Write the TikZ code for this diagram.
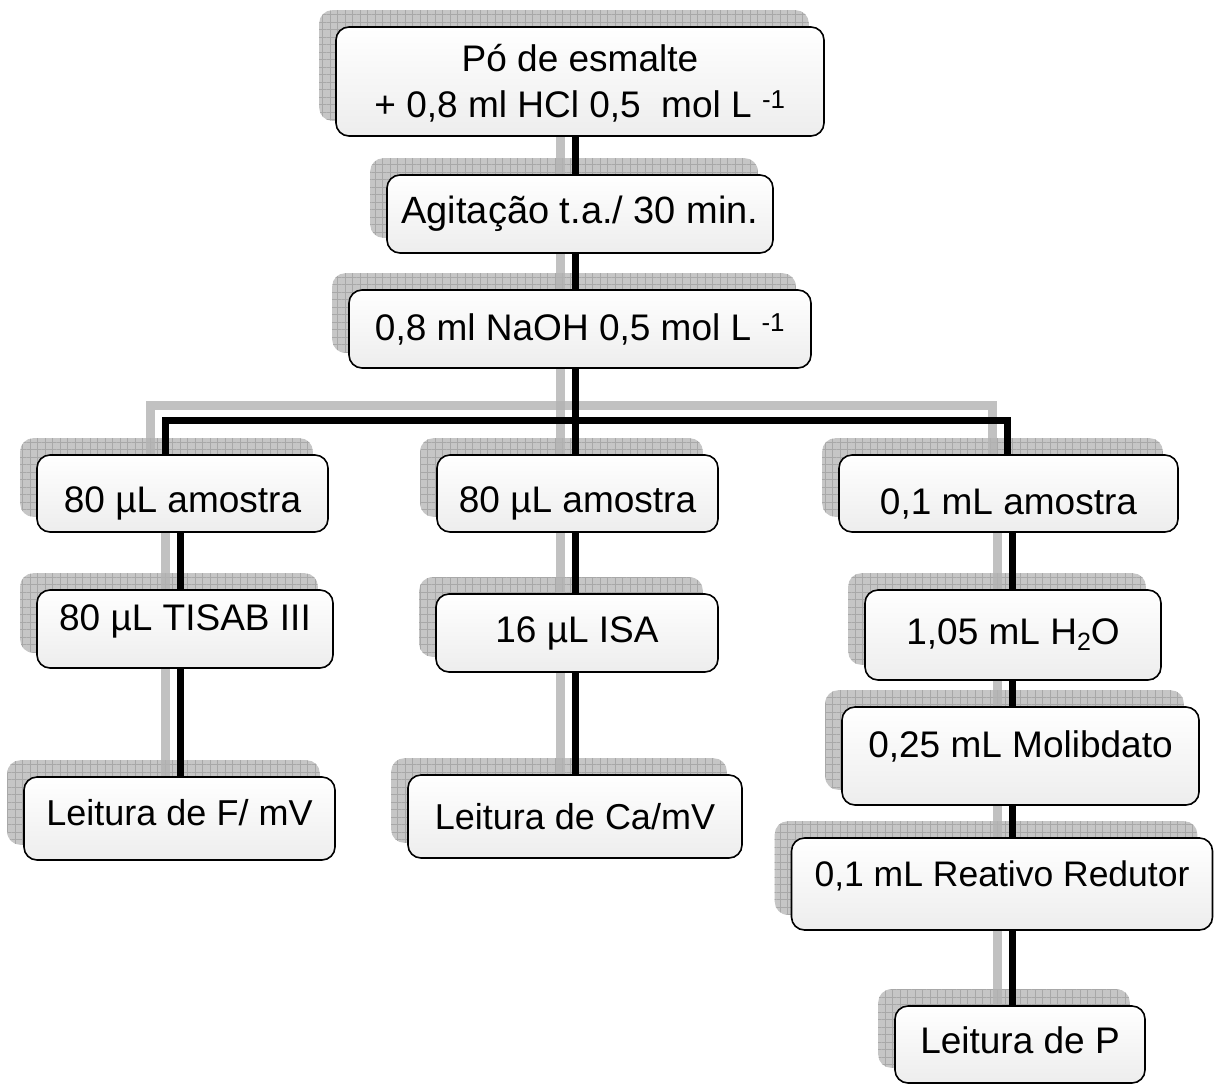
\documentclass[tikz,border=0pt]{standalone}
\usepackage{fontspec}
\setmainfont{Liberation Sans}
\usetikzlibrary{patterns.meta}
\pgfdeclarelayer{shadowlayer}
\pgfdeclarelayer{connlayer}
\pgfsetlayers{shadowlayer,connlayer,main}
\newcommand\mvtxt[2]{\raisebox{#1}[\height][\depth]{#2}}
\newcommand\myconns[1]{%
  \draw[#1] (top.center -| jM) -- (agit.center -| jM);
  \draw[#1] (agit.center -| jM) -- (naoh.center -| jM);
  \draw[#1] (naoh.center -| jM) -- (jM);
  \draw[#1] (jL |- a1.center) -- (jL) -- (jR) -- (jR |- a3.center);
  \draw[#1] (jM) -- (a2.center -| jM);
  \draw[#1] (a2.center -| jM) -- (i2.center -| jM);
  \draw[#1] (i2.center -| jM) -- (c2.center -| jM);
  \draw[#1] (a1.center -| cL) -- (t1.center -| cL);
  \draw[#1] (t1.center -| cL) -- (f1.center -| cL);
  \draw[#1] (a3.center -| cR) -- (h3.center -| cR);
  \draw[#1] (h3.center -| cR) -- (m3.center -| cR);
  \draw[#1] (m3.center -| cR) -- (r3.center -| cR);
  \draw[#1] (r3.center -| cR) -- (p3.center -| cR);
}
\begin{document}
\begin{tikzpicture}[x=1pt,y=-1pt,
  box/.style={draw=black, line width=1.6pt, rounded corners=13pt,
    top color=white, bottom color=gray!14,
    font=\fontsize{37}{46}\selectfont, align=center, inner sep=0pt},
  boxshadow/.style={rounded corners=13pt, preaction={fill=gray!45},
    pattern={Hatch[distance=7.5pt,angle=0,line width=0.8pt]}, pattern color=gray!68},
  conn/.style={draw=black, line width=7pt, line join=miter},
  connshadow/.style={draw=gray!60, line width=9pt, opacity=0.8, line join=miter},
]
\useasboundingbox (0,0) rectangle (1214,1087);

\node[box, minimum width=488pt, minimum height=109pt] (top) at (580,81.5)
  {\mvtxt{-2pt}{Pó de esmalte}\\\mvtxt{-2pt}{+ 0,8 ml HCl 0,5~ mol L \textsuperscript{-1}}};
\node[box, minimum width=386pt, minimum height=78pt, font=\fontsize{38}{46}\selectfont] (agit) at (580,214) {Agitação t.a./ 30 min.};
\node[box, minimum width=462pt, minimum height=78pt] (naoh) at (580,329) {0,8 ml NaOH 0,5 mol L \textsuperscript{-1}};

\node[box, minimum width=291pt, minimum height=77pt] (a1) at (182.5,493.5) {\mvtxt{-10pt}{80 µL amostra}};
\node[box, minimum width=281pt, minimum height=77pt] (a2) at (577.5,493.5) {\mvtxt{-10pt}{80 µL amostra}};
\node[box, minimum width=339pt, minimum height=77pt] (a3) at (1008.5,493.5) {\mvtxt{-10pt}{0,1 mL amostra}};

\node[box, minimum width=296pt, minimum height=78pt] (t1) at (185,629) {\mvtxt{8pt}{80 µL TISAB III}};
\node[box, minimum width=282pt, minimum height=78pt] (i2) at (577,633) {16 µL ISA};
\node[box, minimum width=296pt, minimum height=90pt] (h3) at (1013,635)
  {1,05 mL H\raisebox{-0.3ex}{\fontsize{25}{25}\selectfont 2}O};

\node[box, minimum width=311pt, minimum height=83pt, font=\fontsize{36}{46}\selectfont] (f1) at (179.5,818.5) {\mvtxt{6pt}{Leitura de F/ mV}};
\node[box, minimum width=334pt, minimum height=83pt, font=\fontsize{36}{46}\selectfont] (c2) at (575,816.5) {Leitura de Ca/mV};

\node[box, minimum width=357pt, minimum height=98pt] (m3) at (1020.5,756) {\mvtxt{10pt}{0,25 mL Molibdato}};
\node[box, minimum width=421pt, minimum height=92pt, font=\fontsize{35.5}{46}\selectfont] (r3) at (1002,884) {\mvtxt{8pt}{0,1 mL Reativo Redutor}};
\node[box, minimum width=250pt, minimum height=77pt] (p3) at (1020,1044.5) {\mvtxt{4pt}{Leitura de P}};

\coordinate (jL) at (165,420);
\coordinate (jM) at (575,420);
\coordinate (jR) at (1007,420);
\coordinate (cL) at (180,420);
\coordinate (cR) at (1012,420);

\begin{pgfonlayer}{shadowlayer}
  \foreach \n in {top,agit,naoh,a1,a2,a3,t1,i2,h3,f1,c2,m3,r3,p3}
    \path[boxshadow] ([shift={(-16,-16)}]\n.south west) rectangle ([shift={(-16,-16)}]\n.north east);
\end{pgfonlayer}
\begin{pgfonlayer}{connlayer}
  \begin{scope}[transform canvas={xshift=-15pt, yshift=15pt}]
    \myconns{connshadow}
  \end{scope}
  \myconns{conn}
\end{pgfonlayer}
\end{tikzpicture}
\end{document}
